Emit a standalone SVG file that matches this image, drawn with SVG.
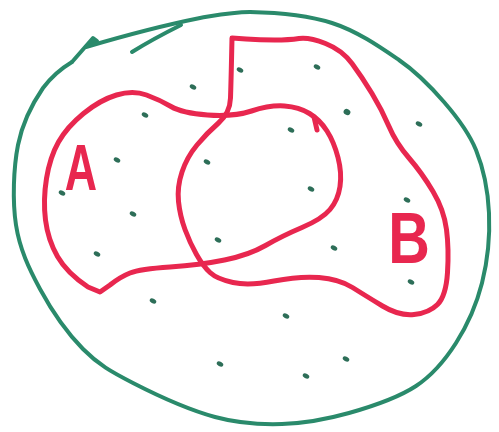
<svg xmlns="http://www.w3.org/2000/svg" width="499" height="432" viewBox="0 0 499 432">
<style>
.g{fill:none;stroke:#2a8a6b;stroke-width:4;stroke-linecap:round;stroke-linejoin:round}
.r{fill:none;stroke:#e8274f;stroke-width:5;stroke-linecap:round;stroke-linejoin:round}
.lbl{fill:#e8274f;font-family:"Liberation Sans",Arial,sans-serif;font-weight:bold;text-anchor:middle}
.d{fill:#2d6e58}
</style>
<rect width="499" height="432" fill="#ffffff"/>
<g id="universe">
<path class="g" d="M250,12 C274,12.5 307,15 332,23 C357,31 380,47 399,60 C418,73 431,87 444,102 C457,117 468.5,131.5 476,150 C483.5,168.5 488,190.8 489,213 C490,235 487.5,261.3 482,283 C476.5,304.7 467,325.8 456,343 C445,360.2 433.8,374.3 416,386 C398.2,397.7 371.3,406.7 349,413 C326.7,419.3 304.3,423.3 282,424 C259.7,424.7 239.8,423.8 215,417 C190.2,410.2 155,394.3 133,383 C111,371.7 98.5,364.7 83,349 C67.5,333.3 51.2,309.7 40,289 C28.8,268.3 19.7,249 16,225 C12.3,201 13.5,167.8 18,145 C22.5,122.2 32.7,103 43,88 C52,76 62,68 72,62"/>
<path class="g" stroke-width="6" d="M72,62 L93,38 L97,41 L88,46"/>
<path class="g" stroke-width="5" d="M86,47 C120,37 160,26 200,18 C218,15 232,12 250,12"/>
<path class="g" stroke-width="3" d="M132,52 C148,42 165,33 181,25"/>
</g>
<g id="setA">
<path class="r" d="M83.5,113.5 Q100,100 116.5,95 Q133,90 146.5,95 Q160,100 171,106.5 Q182,113 207.5,115 Q233,117 251.5,111 Q270,105 284.5,106 Q299,107 309.5,113.5 Q320,120 327,131 Q334,142 338,157.5 Q342,173 340,186.5 Q338,200 330,209.5 Q322,219 302,227.5 Q282,236 265.5,245.5 Q249,255 224.5,260 Q200,265 170,267 Q140,269 130,273 Q120,277 110,285 L100,292 L88,287 Q67,273 57.5,256.5 Q48,240 45.5,220 Q43,200 46.5,178.5 Q50,157 58.5,142 Q67,127 83.5,113.5 Z"/>
<path class="r" stroke-width="3" d="M314,117 L317,130"/>
<text class="lbl" font-size="64" transform="translate(81,190) scale(0.7,1)">A</text>
</g>
<g id="setB">
<path class="r" d="M232,38 L246,39 Q260,40 274.5,40 Q289,40 299,38.5 Q309,37 325.5,43.5 Q342,50 352,63.5 Q362,77 372,93.5 Q382,110 389,126.5 Q396,143 409,158 Q422,173 433,191.5 Q444,210 446.5,229.5 Q449,249 447.5,272.5 Q446,296 437.5,304.5 Q429,313 414,314.5 Q399,316 382.5,306 Q366,296 352.5,287.5 Q339,279 319,277.5 Q299,276 274,281 Q249,286 233,282.5 Q217,279 210,272.5 Q203,266 196.5,254.5 Q190,243 185,229.5 Q180,216 178.5,201.5 Q177,187 182,172 Q187,157 197,145 Q207,133 218.5,123 Q230,113 230.5,98 Q231,83 231.5,60.5 L232,38 Z"/>
<text class="lbl" font-size="72" transform="translate(409,263) scale(0.8,1)">B</text>
</g>
<g id="elements">
<ellipse class="d" cx="240" cy="70" rx="3.5" ry="2.3" transform="rotate(30 240 70)"/>
<ellipse class="d" cx="193" cy="87" rx="3.5" ry="2.3" transform="rotate(30 193 87)"/>
<ellipse class="d" cx="145" cy="115" rx="3.5" ry="2.3" transform="rotate(30 145 115)"/>
<ellipse class="d" cx="117" cy="160" rx="3.5" ry="2.3" transform="rotate(30 117 160)"/>
<ellipse class="d" cx="207" cy="162" rx="3.5" ry="2.3" transform="rotate(30 207 162)"/>
<ellipse class="d" cx="62" cy="193" rx="3.5" ry="2.3" transform="rotate(30 62 193)"/>
<ellipse class="d" cx="133" cy="214" rx="3.5" ry="2.3" transform="rotate(30 133 214)"/>
<ellipse class="d" cx="317" cy="67" rx="3.5" ry="2.3" transform="rotate(30 317 67)"/>
<ellipse class="d" cx="347" cy="112" rx="3.5" ry="3" transform="rotate(30 347 112)"/>
<ellipse class="d" cx="291" cy="130" rx="3.5" ry="2.3" transform="rotate(30 291 130)"/>
<ellipse class="d" cx="419" cy="124" rx="3.5" ry="2.3" transform="rotate(30 419 124)"/>
<ellipse class="d" cx="311" cy="189" rx="3.5" ry="2.3" transform="rotate(30 311 189)"/>
<ellipse class="d" cx="407" cy="200" rx="3.5" ry="2.3" transform="rotate(30 407 200)"/>
<ellipse class="d" cx="218" cy="240" rx="3.5" ry="2.3" transform="rotate(30 218 240)"/>
<ellipse class="d" cx="97" cy="254" rx="3.5" ry="2.3" transform="rotate(30 97 254)"/>
<ellipse class="d" cx="153" cy="301" rx="3.5" ry="2.3" transform="rotate(30 153 301)"/>
<ellipse class="d" cx="220" cy="364" rx="3.5" ry="2.3" transform="rotate(30 220 364)"/>
<ellipse class="d" cx="334" cy="248" rx="3.5" ry="2.3" transform="rotate(30 334 248)"/>
<ellipse class="d" cx="411" cy="282" rx="3.5" ry="2.3" transform="rotate(30 411 282)"/>
<ellipse class="d" cx="286" cy="316" rx="3.5" ry="2.3" transform="rotate(30 286 316)"/>
<ellipse class="d" cx="346" cy="359" rx="3.5" ry="2.3" transform="rotate(30 346 359)"/>
<ellipse class="d" cx="306" cy="376" rx="3.5" ry="2.3" transform="rotate(30 306 376)"/>
</g>
</svg>
